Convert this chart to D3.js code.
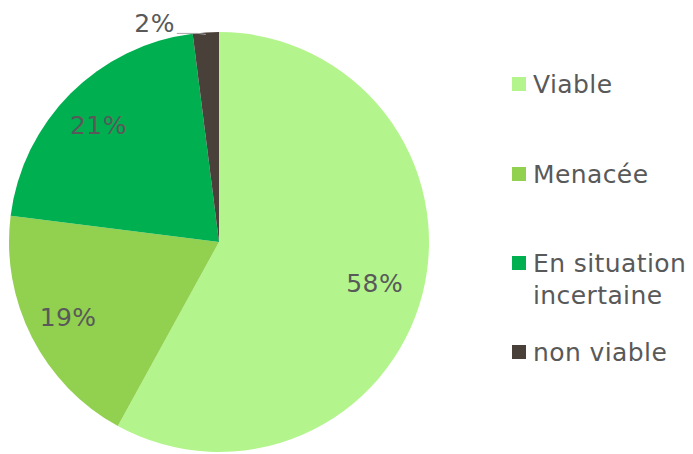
<!DOCTYPE html>
<html>
<head>
<meta charset="utf-8">
<script src="https://cdn.jsdelivr.net/npm/d3@7"></script>
<style>
  html, body { margin: 0; padding: 0; background: #fff; }
  svg { display: block; font-family: "DejaVu Sans", Verdana, sans-serif; }
</style>
</head>
<body>
<svg id="chart" width="693" height="454"></svg>
<script>
// Viability status shares (percent)
const categories = ["Viable", "Menacée", "En situation incertaine", "non viable"];
const legendLines = [["Viable"], ["Menacée"], ["En situation", "incertaine"], ["non viable"]];
const values = [58, 19, 21, 2];
const colors = ["#b3f58c", "#92d050", "#00b050", "#4a403a"];

const svg = d3.select("#chart");
const cx = 219, cy = 242, radius = 210;
const textColor = "#595959";
const fontSize = 25, spacing = 0.4;

const data = categories.map((c, i) => ({ name: c, value: values[i], color: colors[i] }));

const pie = d3.pie().value(d => d.value).sort(null);
const arcs = pie(data);
const arc = d3.arc().innerRadius(0).outerRadius(radius);
const labelArc = d3.arc().innerRadius(radius * 0.785).outerRadius(radius * 0.785);
const edgeArc = d3.arc().innerRadius(radius).outerRadius(radius);

const g = svg.append("g").attr("transform", `translate(${cx},${cy})`);

g.selectAll("path.slice")
  .data(arcs)
  .join("path")
  .attr("class", "slice")
  .attr("d", arc)
  .attr("fill", d => d.data.color);

// Inside labels for larger slices, an outside label with leader for the small one
arcs.forEach(d => {
  const txt = d.data.value + "%";
  if (d.data.value >= 5) {
    const [x, y] = labelArc.centroid(d);
    g.append("text")
      .attr("x", x - 4).attr("y", y + 9)
      .attr("text-anchor", "middle")
      .attr("font-size", fontSize)
      .attr("letter-spacing", spacing)
      .attr("fill", textColor)
      .text(txt);
  } else {
    const [ex, ey] = edgeArc.centroid(d);
    const tx = ex - 31, ty = ey + 1;
    g.append("polyline")
      .attr("points", `${tx + 2},${ty} ${ex - 8},${ty} ${ex},${ey + 2}`)
      .attr("fill", "none")
      .attr("stroke", "#a6a6a6")
      .attr("stroke-width", 1);
    g.append("text")
      .attr("x", tx).attr("y", ty - 1)
      .attr("text-anchor", "end")
      .attr("font-size", fontSize)
      .attr("letter-spacing", spacing)
      .attr("fill", textColor)
      .text(txt);
  }
});

// Legend
const legendX = 512;
const legendBaselines = [93, 183, 272, 361];
const legend = svg.append("g");
data.forEach((d, i) => {
  const by = legendBaselines[i];
  legend.append("rect")
    .attr("x", legendX).attr("y", by - 16)
    .attr("width", 14).attr("height", 14)
    .attr("fill", d.color);
  legendLines[i].forEach((line, j) => {
    legend.append("text")
      .attr("x", legendX + 21).attr("y", by + j * 32)
      .attr("font-size", fontSize)
      .attr("letter-spacing", spacing)
      .attr("fill", textColor)
      .text(line);
  });
});
</script>
</body>
</html>
